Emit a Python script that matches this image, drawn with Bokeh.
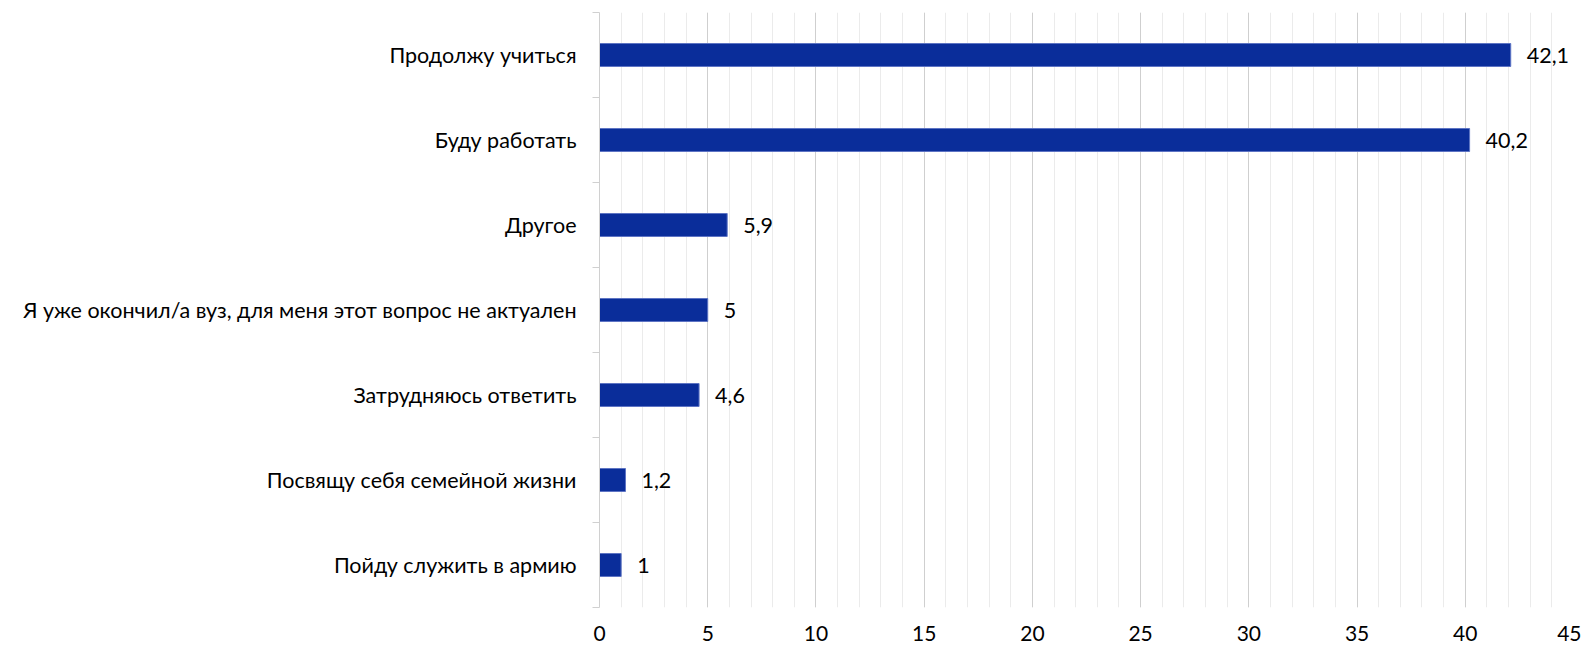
from bokeh.plotting import figure
from bokeh.models import Range1d, FixedTicker, ColumnDataSource
from bokeh.embed import file_html
from bokeh.resources import INLINE
from bokeh.core.properties import value

# Data (top to bottom as in the chart)
categories = [
    "Продолжу учиться",
    "Буду работать",
    "Другое",
    "Я уже окончил/а вуз, для меня этот вопрос не актуален",
    "Затрудняюсь ответить",
    "Посвящу себя семейной жизни",
    "Пойду служить в армию",
]
values = [42.1, 40.2, 5.9, 5, 4.6, 1.2, 1]
value_labels = ["42,1", "40,2", "5,9", "5", "4,6", "1,2", "1"]
x_ticks = [0, 5, 10, 15, 20, 25, 30, 35, 40, 45]

n = len(categories)
positions = [n - i for i in range(n)]  # top category gets highest position

src = ColumnDataSource(dict(y=positions, v=values, lab=value_labels, cat=categories))

FONT = "Lato"
FS = "21.5px"

p = figure(
    width=1581, height=648,
    output_backend="svg", toolbar_location=None,
    x_range=Range1d(0, 45), y_range=Range1d(0.5, n + 0.5),
    min_border_left=599, min_border_right=8, min_border_top=12, min_border_bottom=41,
)
p.outline_line_color = None
p.background_fill_color = "white"

p.hbar(y="y", right="v", left=0, height=0.27, source=src,
       fill_color="#0A2D9A", line_color="#5D74C4", line_width=1)

p.text(x="v", y="y", text="lab", source=src, x_offset=16,
       text_baseline="middle", text_align="left",
       text_font=value(FONT), text_font_size=FS, text_color="#000000")

# X axis
p.xaxis.ticker = FixedTicker(ticks=x_ticks, minor_ticks=list(range(0, 46)))
p.xaxis.axis_line_color = None
p.xaxis.major_tick_line_color = None
p.xaxis.minor_tick_line_color = None
p.xaxis.major_label_standoff = 12
p.xaxis.major_label_text_font = FONT
p.xaxis.major_label_text_font_size = "21px"
p.xaxis.major_label_text_color = "#000000"

p.xgrid.ticker = FixedTicker(ticks=x_ticks, minor_ticks=list(range(0, 46)))
p.xgrid.grid_line_color = "#CFCFCF"
p.xgrid.grid_line_width = 1
p.xgrid.minor_grid_line_color = "#EBEBEB"
p.xgrid.minor_grid_line_width = 1
p.ygrid.grid_line_color = None

# Y axis: labels at category centres, tick marks at category boundaries
p.yaxis.ticker = FixedTicker(ticks=positions, minor_ticks=[i + 0.5 for i in range(n + 1)])
p.yaxis.major_label_overrides = {pos: cat for pos, cat in zip(positions, categories)}
p.yaxis.axis_line_color = "#D0D0D0"
p.yaxis.major_tick_line_color = None
p.yaxis.minor_tick_line_color = "#D0D0D0"
p.yaxis.minor_tick_out = 7
p.yaxis.minor_tick_in = 0
p.yaxis.major_label_standoff = 16
p.yaxis.major_label_text_font = FONT
p.yaxis.major_label_text_font_size = FS
p.yaxis.major_label_text_color = "#000000"

open("out.html", "w").write(file_html(p, INLINE))
